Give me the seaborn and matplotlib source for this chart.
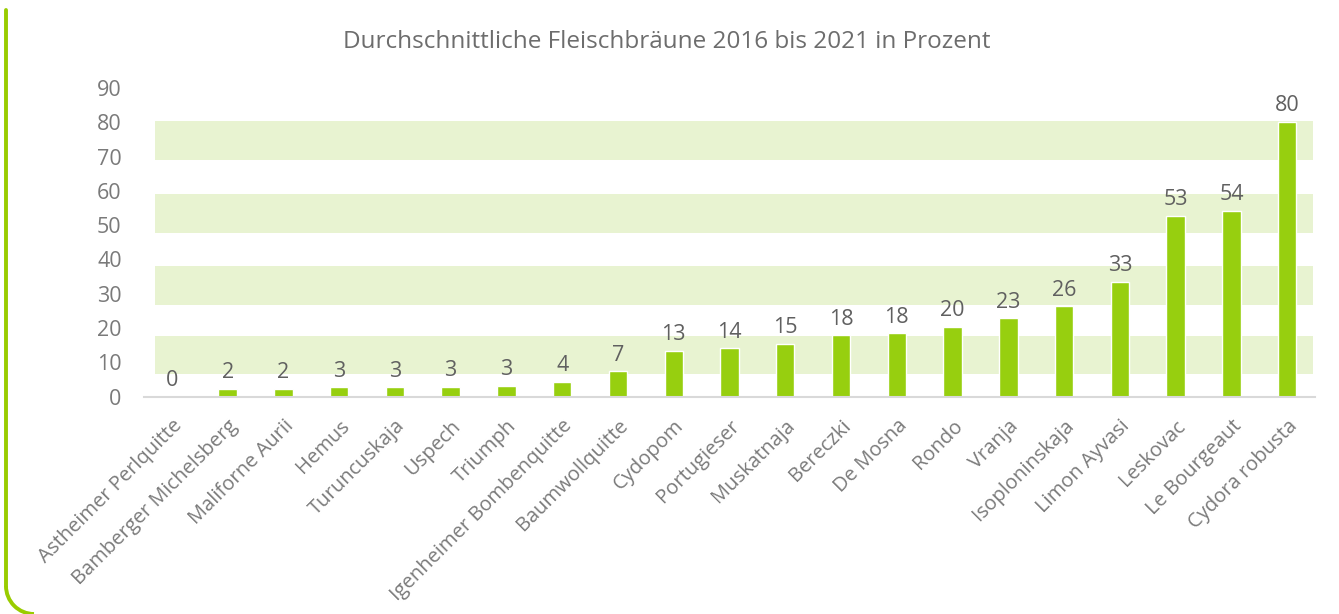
import matplotlib
matplotlib.use("Agg")
import matplotlib.pyplot as plt
from matplotlib.lines import Line2D
from matplotlib.patches import Arc
import seaborn as sns
import pandas as pd

# Daten
sorten = ["Astheimer Perlquitte", "Bamberger Michelsberg", "Maliforne Aurii", "Hemus",
          "Turuncuskaja", "Uspech", "Triumph", "Igenheimer Bombenquitte", "Baumwollquitte",
          "Cydopom", "Portugieser", "Muskatnaja", "Bereczki", "De Mosna", "Rondo", "Vranja",
          "Isoploninskaja", "Limon Ayvasi", "Leskovac", "Le Bourgeaut", "Cydora robusta"]
braeune = [0.0, 2.2, 2.2, 2.7, 2.7, 2.8, 3.2, 4.3, 7.3, 13.4, 14.1, 15.4, 17.9, 18.5,
           20.4, 22.8, 26.3, 33.4, 52.8, 54.2, 80.2]
y_ticks = [0, 10, 20, 30, 40, 50, 60, 70, 80, 90]
titel = "Durchschnittliche Fleischbräune 2016 bis 2021 in Prozent"

df = pd.DataFrame({"sorte": sorten, "wert": braeune})

sns.set_style("white")
plt.rcParams["font.family"] = ["Open Sans", "DejaVu Sans"]

gruen = "#97cf0f"
band = "#e8f3d1"
grau = "#7a7a7a"

fig = plt.figure(figsize=(13.39, 6.14), dpi=100)
ax = fig.add_axes([0.1075, 0.3542, 0.8746, 0.5025])

# Hintergrundstreifen
for lo, hi in [(6.7, 17.7), (26.7, 38.1), (47.7, 59.0), (69.0, 80.3)]:
    ax.axhspan(lo, hi, xmin=0.0094, xmax=0.998, color=band, lw=0, zorder=0)

sns.barplot(data=df, x="sorte", y="wert", color=gruen, width=0.33, saturation=1,
            ax=ax, zorder=2)

ax.bar_label(ax.containers[0], labels=[f"{v:.0f}" for v in braeune], padding=4,
             fontsize=15.5, color="#606060")

ax.set_xlim(-0.5, len(sorten) - 0.5)
ax.set_ylim(0, 90)
ax.set_yticks(y_ticks)
ax.set_xlabel("")
ax.set_ylabel("")
ax.tick_params(axis="y", length=0, pad=16, labelsize=15.5, labelcolor=grau)
ax.tick_params(axis="x", length=0, pad=14, labelsize=14.5, labelcolor=grau)
plt.setp(ax.get_xticklabels(), rotation=45, ha="right", va="top", rotation_mode="anchor")

for s in ["top", "right", "left"]:
    ax.spines[s].set_visible(False)
ax.spines["bottom"].set_color("#d9d9d9")
ax.spines["bottom"].set_linewidth(1.5)
ax.set_facecolor("none")

fig.text(0.4978, 0.9316, titel, ha="center", va="center", fontsize=17.5, color="#6d6d6d")

# gruener Rahmen links
W, H = 1339, 614
fig.add_artist(Line2D([6 / W, 6 / W], [28 / H, 604 / H], transform=fig.transFigure,
                      color="#99cc00", lw=2.8))
fig.add_artist(Arc((34 / W, 28 / H), 56 / W, 56 / H, theta1=180, theta2=270,
                   transform=fig.transFigure, color="#99cc00", lw=2.8))

fig.savefig("out.png", dpi=100)
